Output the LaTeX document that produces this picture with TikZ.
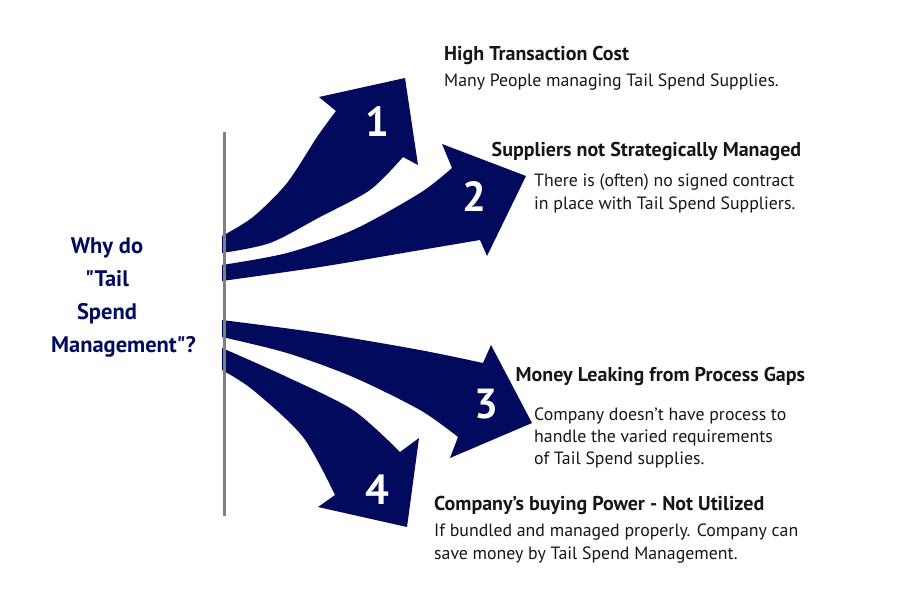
\documentclass[tikz,border=0pt]{standalone}
\usepackage{fontspec}
\setmainfont{PT Sans}[Ligatures=TeXOff]
\definecolor{navy}{RGB}{2,10,94}
\definecolor{txt}{RGB}{22,22,22}
\definecolor{bar}{RGB}{128,128,128}
\begin{document}
\begin{tikzpicture}[x=1pt,y=-1pt,
  arr/.style={fill=navy},
  num/.style={text=white,inner sep=0pt,font=\fontsize{42}{42}\selectfont\bfseries},
  head/.style={anchor=base west,inner sep=0pt,font=\fontsize{20}{24}\selectfont\bfseries,text=txt},
  body/.style={anchor=base west,inner sep=0pt,font=\fontsize{17.8}{22.3}\selectfont,text=txt},
  why/.style={anchor=base,inner sep=0pt,font=\fontsize{22.5}{33.2}\selectfont\bfseries,text=navy}]
\useasboundingbox (0,0) rectangle (900,600);
% arrow 1
\fill[arr] plot[smooth] coordinates {(222,253) (270,243) (320,217) (370,190) (403,157)} -- (418,165) -- (405,78) -- (319,97) -- plot[smooth] coordinates {(336,111) (317,137) (287,183) (253,217) (222,236)} -- cycle;
% arrow 2
\fill[arr] plot[smooth] coordinates {(222,265) (287,253) (353,230) (420,193) (452,168)} -- (442,144) -- (526,176) -- (487,256) -- plot[smooth] coordinates {(480,240) (403,253) (320,267) (222,281)} -- cycle;
% arrow 3
\fill[arr] plot[smooth] coordinates {(222,320) (320,333) (420,350) (483,363)} -- (491,345) -- (532,423) -- (450,458) -- plot[smooth] coordinates {(458,437) (420,410) (353,377) (287,353) (222,337)} -- cycle;
% arrow 4
\fill[arr] plot[smooth] coordinates {(222,348) (287,377) (353,410) (400,452)} -- (419,438) -- (407,527) -- (318,507) -- plot[smooth] coordinates {(335,495) (303,437) (253,390) (222,370)} -- cycle;
% vertical bar
\draw[bar,line width=3pt] (224,132) coordinate (bt) -- (224,516) coordinate (bb);
% numbers
\node[num] (n1) at (377,122) {1};
\node[num] (n2) at (474,197) {2};
\node[num] (n3) at (486,404) {3};
\node[num] (n4) at (377,490) {4};
% left question
\node[why] (why) at (107,253) {\begin{tabular}[t]{@{}c@{}}Why do\\"Tail\\Spend\\\hspace*{33pt}Management"?\end{tabular}};
% texts
\node[head] (h1) at (444,60) {High Transaction Cost};
\node[body] (b1) at (444,86.7) {Many People managing Tail Spend Supplies.};
\node[head] (h2) at (491.5,156.7) {Suppliers not Strategically Managed};
\node[body] (b2) at (534,186.7) {\begin{tabular}[t]{@{}l@{}}There is (often) no signed contract\\in place with Tail Spend Suppliers.\end{tabular}};
\node[head] (h3) at (515.5,381.7) {Money Leaking from Process Gaps};
\node[body] (b3) at (534,420) {\begin{tabular}[t]{@{}l@{}}Company doesn’t have process to\\handle the varied requirements\\of Tail Spend supplies.\end{tabular}};
\node[head] (h4) at (434,510) {Company’s buying Power - Not Utilized};
\node[body] (b4) at (434,536.7) {\begin{tabular}[t]{@{}l@{}}If bundled and managed properly. Company can\\save money by Tail Spend Management.\end{tabular}};
\end{tikzpicture}
\end{document}
